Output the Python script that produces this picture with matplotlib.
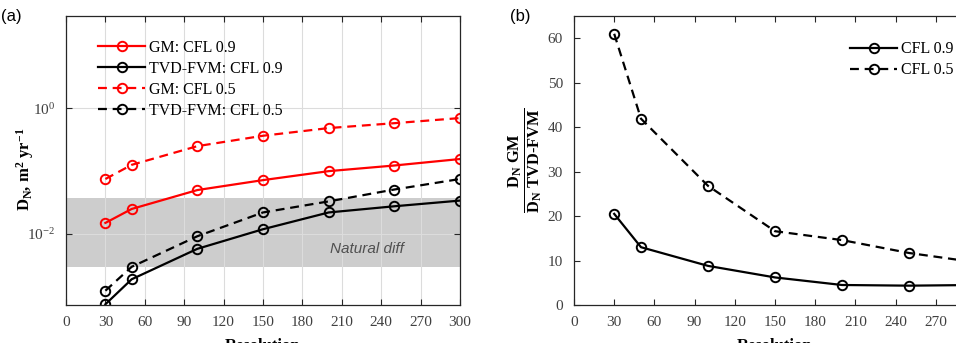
import matplotlib
matplotlib.use("Agg")
import matplotlib.pyplot as plt
from matplotlib.ticker import NullLocator

plt.rcParams['font.family'] = ['Liberation Serif', 'DejaVu Serif']
plt.rcParams['mathtext.fontset'] = 'custom'
plt.rcParams['mathtext.rm'] = 'Liberation Serif:bold'
plt.rcParams['mathtext.it'] = 'Liberation Serif:italic:bold'
plt.rcParams['mathtext.bf'] = 'Liberation Serif:bold'

# data
resolution = [30, 50, 100, 150, 200, 250, 300]
gm_cfl09 = [0.015, 0.025, 0.050, 0.072, 0.100, 0.123, 0.156]
tvd_cfl09 = [0.00076, 0.0019, 0.0058, 0.0119, 0.022, 0.0276, 0.034]
gm_cfl05 = [0.075, 0.126, 0.25, 0.366, 0.485, 0.58, 0.70]
tvd_cfl05 = [0.00125, 0.0030, 0.0092, 0.022, 0.033, 0.051, 0.075]
natural_diff = [0.003, 0.038]

ratio_cfl09 = [20.5, 13.0, 8.8, 6.2, 4.5, 4.35, 4.5]
ratio_cfl05 = [61.0, 41.9, 26.8, 16.6, 14.6, 11.7, 9.6]

xticks = list(range(0, 301, 30))

red = '#ff0000'
axcol = '#262626'
W, H = 956, 343

fig = plt.figure(figsize=(W / 100, H / 100), dpi=100)
ax1 = fig.add_axes([66 / W, (H - 305) / H, 394 / W, 289 / H])
ax2 = fig.add_axes([574 / W, (H - 305) / H, 402 / W, 289 / H])

mk = dict(marker='o', markersize=6.8, markerfacecolor='none', markeredgewidth=1.4, lw=1.6)
dash = (4, 2.6)
leg_kw = dict(frameon=False, fontsize=11.5, handlelength=2.9, handletextpad=0.25,
              labelspacing=0.32, borderaxespad=0)

# ---- (a)
ax1.axhspan(natural_diff[0], natural_diff[1], color='#cdcdcd', lw=0, zorder=0.5)
ax1.plot(resolution, gm_cfl09, color=red, label='GM: CFL 0.9', **mk)
ax1.plot(resolution, tvd_cfl09, color='k', label='TVD-FVM: CFL 0.9', **mk)
ax1.plot(resolution, gm_cfl05, color=red, dashes=dash, label='GM: CFL 0.5', **mk)
ax1.plot(resolution, tvd_cfl05, color='k', dashes=dash, label='TVD-FVM: CFL 0.5', **mk)
ax1.text(229, 0.0058, 'Natural diff', family='Liberation Sans', style='italic',
         fontsize=11, color='#505050', ha='center', va='center')
ax1.set_yscale('log')
ax1.set_ylim(7.4e-4, 29.5)
ax1.set_yticks([1e-2, 1e0])
ax1.yaxis.set_minor_locator(NullLocator())
ax1.grid(True, color='#dcdcdc', lw=0.8)
ax1.set_ylabel(r'D$_\mathdefault{N}$, m$^\mathdefault{2}$ yr$^\mathdefault{-1}$',
               fontsize=12, fontweight='bold', va='center')
ax1.yaxis.set_label_coords(-0.105, 0.47)
ax1.legend(loc='upper left', bbox_to_anchor=(26 / 394, 0.94), **leg_kw)
ax1.text(-0.165, 1.0, '(a)', transform=ax1.transAxes, family='Liberation Sans',
         fontsize=12, va='center', ha='left')

# ---- (b)
ax2.plot(resolution, ratio_cfl09, color='k', label='CFL 0.9', **mk)
ax2.plot(resolution, ratio_cfl05, color='k', dashes=dash, label='CFL 0.5', **mk)
ax2.set_ylim(0, 65)
ax2.set_yticks(range(0, 61, 10))
ax2.set_ylabel(r'$\frac{\mathrm{D_N\ GM}}{\mathrm{D_N\ TVD\text{-}FVM}}$',
               fontsize=17, va='center')
ax2.yaxis.set_label_coords(-0.122, 0.5)
ax2.legend(loc='upper left', bbox_to_anchor=((844 - 574) / 402, 0.935), **leg_kw)
ax2.text(-0.16, 1.0, '(b)', transform=ax2.transAxes, family='Liberation Sans',
         fontsize=12, va='center', ha='left')

for ax in (ax1, ax2):
    ax.set_xlim(0, 300)
    ax.set_xticks(xticks)
    ax.tick_params(direction='in', top=True, right=True, labelsize=11,
                   colors=axcol, labelcolor='#404040', length=4, pad=8)
    for s in ax.spines.values():
        s.set_color(axcol)
        s.set_linewidth(0.9)
    ax.set_xlabel('Resolution', fontsize=12, fontweight='bold', va='top')
    ax.xaxis.set_label_coords(0.5, -0.114)

fig.savefig('out.png', dpi=100)
